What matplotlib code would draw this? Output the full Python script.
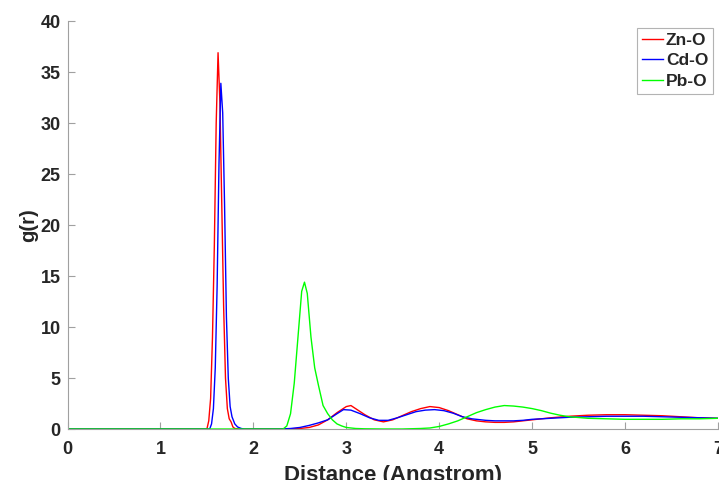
import numpy as np
import matplotlib.pyplot as plt

# g(r) points
r_zn = [0, 1.50, 1.52, 1.54, 1.56, 1.58, 1.60, 1.62, 1.64, 1.66, 1.68, 1.70, 1.72, 1.74, 1.76, 1.78,
        1.80, 1.85, 2.3, 2.5, 2.6, 2.7, 2.8, 2.9, 3.0, 3.05, 3.1, 3.2, 3.3, 3.4, 3.5, 3.6, 3.7, 3.8,
        3.9, 4.0, 4.1, 4.2, 4.3, 4.4, 4.5, 4.6, 4.7, 4.8, 4.9, 5.0, 5.2, 5.4, 5.6, 5.8, 6.0, 6.2,
        6.4, 6.6, 6.8, 7.0]
g_zn = [0, 0, 0.8, 3, 9, 18, 30, 36.9, 32, 22, 12, 5, 2, 1.0, 0.7, 0.2,
        0.05, 0, 0, 0.05, 0.15, 0.4, 0.9, 1.6, 2.2, 2.3, 2.0, 1.4, 0.9, 0.7, 0.9, 1.3, 1.7, 2.0,
        2.2, 2.1, 1.8, 1.4, 1.0, 0.8, 0.7, 0.65, 0.65, 0.7, 0.8, 0.9, 1.1, 1.25, 1.35, 1.4, 1.4, 1.35,
        1.3, 1.2, 1.1, 1.05]

r_cd = [0, 1.53, 1.55, 1.57, 1.59, 1.61, 1.63, 1.65, 1.67, 1.69, 1.71, 1.73, 1.75, 1.77, 1.80,
        1.83, 1.87, 1.9, 2.3, 2.4, 2.5, 2.6, 2.7, 2.8, 2.9, 2.97, 3.05, 3.15, 3.25, 3.35, 3.45, 3.55,
        3.65, 3.75, 3.85, 3.95, 4.05, 4.15, 4.25, 4.35, 4.5, 4.6, 4.7, 4.8, 4.9, 5.0, 5.2, 5.4, 5.6,
        5.8, 6.0, 6.2, 6.4, 6.6, 6.8, 7.0]
g_cd = [0, 0, 0.5, 2, 6, 14, 26, 33.9, 31, 22, 11, 5, 2.2, 1.2, 0.5,
        0.2, 0.05, 0, 0, 0.05, 0.15, 0.35, 0.6, 0.9, 1.5, 1.9, 1.85, 1.5, 1.1, 0.85, 0.85, 1.1,
        1.4, 1.7, 1.85, 1.9, 1.8, 1.55, 1.2, 1.0, 0.85, 0.8, 0.8, 0.8, 0.85, 0.95, 1.05, 1.15, 1.2,
        1.25, 1.25, 1.25, 1.2, 1.15, 1.1, 1.05]

r_pb = [0, 2.32, 2.36, 2.40, 2.44, 2.48, 2.52, 2.55, 2.58, 2.62, 2.66, 2.70, 2.75, 2.80, 2.85,
        2.90, 2.95, 3.0, 3.1, 3.2, 3.4, 3.6, 3.8, 3.9, 4.0, 4.1, 4.2, 4.3, 4.4, 4.5, 4.6, 4.7, 4.8,
        4.9, 5.0, 5.1, 5.2, 5.3, 5.4, 5.6, 5.8, 6.0, 6.2, 6.4, 6.6, 6.8, 7.0]
g_pb = [0, 0, 0.3, 1.5, 4.5, 9, 13.5, 14.4, 13.3, 9, 6, 4.3, 2.3, 1.5, 0.9,
        0.5, 0.3, 0.15, 0.05, 0.02, 0, 0, 0.05, 0.1, 0.25, 0.5, 0.8, 1.2, 1.6, 1.9, 2.15, 2.3, 2.25,
        2.15, 2.0, 1.8, 1.55, 1.35, 1.2, 1.05, 1.0, 0.95, 0.95, 0.95, 1.0, 1.0, 1.05]

x_ticks = [0, 1, 2, 3, 4, 5, 6, 7]
y_ticks = [0, 5, 10, 15, 20, 25, 30, 35, 40]

plt.rcParams['font.family'] = ['Liberation Sans', 'DejaVu Sans']
plt.rcParams['font.weight'] = 'bold'

fig = plt.figure(figsize=(7.19, 4.80), dpi=100)
ax = fig.add_axes([0.0939, 0.10625, 0.9047, 0.8498])

ax.plot(r_zn, g_zn, color='#ff0000', lw=1.0, label='Zn-O')
ax.plot(r_cd, g_cd, color='#0000ff', lw=1.0, label='Cd-O')
ax.plot(r_pb, g_pb, color='#00ff00', lw=1.0, label='Pb-O')

ax.set_xlim(0, 7)
ax.set_ylim(0, 40)
ax.set_xticks(x_ticks)
ax.set_yticks(y_ticks)
for s in ['top', 'right']:
    ax.spines[s].set_visible(False)
for s in ['left', 'bottom']:
    ax.spines[s].set_color('#a0a0a0')
    ax.spines[s].set_linewidth(0.8)
ax.tick_params(direction='in', length=5, color='#a0a0a0', labelsize=13, labelcolor='#262626')
ax.tick_params(axis='x', pad=9)
ax.tick_params(axis='y', pad=5)
for lab in ax.get_xticklabels() + ax.get_yticklabels():
    lab.set_fontweight('bold')

ax.set_xlabel('Distance (Angstrom)', fontsize=16, fontweight='bold', color='#262626', labelpad=5)
ax.set_ylabel('g(r)', fontsize=14.5, fontweight='bold', color='#262626', labelpad=2)

leg = ax.legend(loc='upper right', fontsize=12.5, frameon=True, fancybox=False,
                handlelength=1.2, handletextpad=0.15, borderpad=0.3, labelspacing=0.3,
                borderaxespad=0.0, bbox_to_anchor=(0.993, 0.984))
leg.get_frame().set_edgecolor('#a0a0a0')
leg.get_frame().set_linewidth(0.8)
for t in leg.get_texts():
    t.set_color('#262626')

fig.savefig('out.png', dpi=100)
